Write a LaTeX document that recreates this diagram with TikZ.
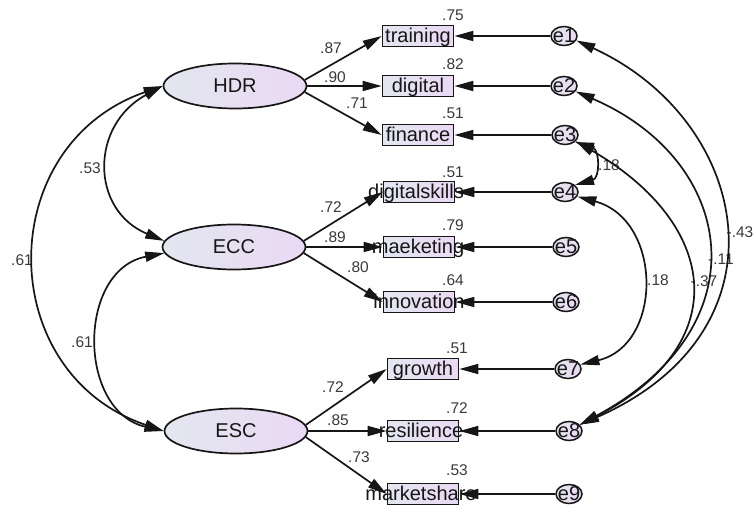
\documentclass[tikz,border=0pt]{standalone}
\usepackage{fontspec}
\setmainfont{Liberation Sans}
\usetikzlibrary{shapes.geometric,arrows.meta}
\definecolor{shadeL}{RGB}{227,230,240}
\definecolor{shadeR}{RGB}{234,217,243}
\definecolor{ink}{RGB}{22,22,22}
\begin{document}
\begin{tikzpicture}[x=1pt,y=-1pt,
  >={Triangle[length=19pt,width=10pt]},
  load/.style={draw=ink,line width=1.7pt,->},
  cov/.style={draw=ink,line width=1.7pt,<->},
  latent/.style={ellipse,draw=ink,line width=1.7pt,minimum width=143pt,minimum height=45pt,inner sep=0pt,left color=shadeL,right color=shadeR},
  obs/.style={rectangle,draw=ink,line width=1.7pt,minimum width=71pt,minimum height=21pt,inner sep=0pt,left color=shadeL,right color=shadeR},
  err/.style={ellipse,draw=ink,line width=1.5pt,minimum width=26pt,minimum height=19pt,inner sep=0pt,left color=shadeL,right color=shadeR},
  vartext/.style={font=\fontsize{20}{20}\selectfont,text=ink,inner sep=0pt,text height=13.5pt,text depth=0pt},
  coef/.style={font=\fontsize{15.5}{15.5}\selectfont,text=ink!85,inner sep=0pt,text height=11pt,text depth=0pt}]
\useasboundingbox (0,0) rectangle (753,505);

% latent factors
\node[latent] (HDR) at (235,86) {};
\node[latent] (ECC) at (234,247) {};
\node[latent] (ESC) at (236,431) {};

% indicators
\node[obs] (training)  at (418,36)  {};
\node[obs] (digital)   at (418,86)  {};
\node[obs] (finance)   at (418,135) {};
\node[obs] (dskills)   at (419,192) {};
\node[obs] (maeketing) at (419,247) {};
\node[obs] (innov)     at (419,302) {};
\node[obs] (growth)    at (423,369) {};
\node[obs] (resil)     at (423,431) {};
\node[obs] (mshare)    at (423,494) {};

% error terms
\node[err] (e1) at (564,36)  {};
\node[err] (e2) at (564,86)  {};
\node[err] (e3) at (565,135) {};
\node[err] (e4) at (565,192) {};
\node[err] (e5) at (566,247) {};
\node[err] (e6) at (566,302) {};
\node[err] (e7) at (568,369) {};
\node[err] (e8) at (569,431) {};
\node[err] (e9) at (569,494) {};

% names
\node[vartext] (tHDR) at (HDR) {HDR};
\node[vartext] (tECC) at (ECC) {ECC};
\node[vartext] (tESC) at (ESC) {ESC};
\node[vartext] (ttraining)  at (training)  {training};
\node[vartext] (tdigital)   at (digital)   {digital};
\node[vartext] (tfinance)   at (finance)   {finance};
\node[vartext] (tdskills)   at (416,192)   {digitalskills};
\node[vartext] (tmaeketing) at (418,247)   {maeketing};
\node[vartext] (tinnov)     at (419,302)   {innovation};
\node[vartext] (tgrowth)    at (growth)    {growth};
\node[vartext] (tresil)     at (421,431)   {resilience};
\node[vartext] (tmshare)    at (421,494)   {marketshare};
\foreach \i in {1,...,9} {\node[vartext] (te\i) at (e\i) {e\i};}

% squared multiple correlations
\node[coef] (r1) at (453,15)  {.75};
\node[coef] (r2) at (453,64)  {.82};
\node[coef] (r3) at (453,113) {.51};
\node[coef] (r4) at (453,172) {.51};
\node[coef] (r5) at (453,225) {.79};
\node[coef] (r6) at (453,280) {.64};
\node[coef] (r7) at (457,348) {.51};
\node[coef] (r8) at (457,408) {.72};
\node[coef] (r9) at (457,470) {.53};

% loadings
\node[coef] (l1) at (331,48)  {.87};
\node[coef] (l2) at (335,77)  {.90};
\node[coef] (l3) at (357,103) {.71};
\node[coef] (l4) at (331,207) {.72};
\node[coef] (l5) at (335,237) {.89};
\node[coef] (l6) at (358,267) {.80};
\node[coef] (l7) at (333,387) {.72};
\node[coef] (l8) at (338,420) {.85};
\node[coef] (l9) at (359,457) {.73};

% covariance values
\node[coef] (c1) at (90,168)  {.53};
\node[coef] (c2) at (22,260)  {.61};
\node[coef] (c3) at (82,342)  {.61};
\node[coef] (c4) at (609,165) {.18};
\node[coef] (c5) at (658,280) {.18};
\node[coef] (c6) at (740,232) {-.43};
\node[coef] (c7) at (721,259) {-.11};
\node[coef] (c8) at (704,281) {-.37};

% factor loadings
\draw[load] (HDR.5)  -- (training.west);
\draw[load] (HDR.east) -- (digital.west);
\draw[load] (HDR.-5) -- (finance.west);
\draw[load] (ECC.5)  -- (dskills.west);
\draw[load] (ECC.east) -- (maeketing.west);
\draw[load] (ECC.-5) -- (innov.west);
\draw[load] (ESC.5)  -- (growth.west);
\draw[load] (ESC.east) -- (resil.west);
\draw[load] (ESC.-5) -- (mshare.west);

% error paths
\draw[load] (e1) -- (training);
\draw[load] (e2) -- (digital);
\draw[load] (e3) -- (finance);
\draw[load] (e4) -- (dskills);
\draw[load] (e5) -- (maeketing);
\draw[load] (e6) -- (innov);
\draw[load] (e7) -- (growth);
\draw[load] (e8) -- (resil);
\draw[load] (e9) -- (mshare);

% factor covariances
\draw[cov] (HDR.west) .. controls (90,125) and (90,210) .. (ECC.175);
\draw[cov] (HDR.west) .. controls (-7,145) and (-7,373) .. (ESC.west);
\draw[cov] (ECC.185) .. controls (77,270) and (77,411) .. (ESC.west);

% error covariances
\draw[cov] (e3.-35) .. controls (600,150) and (600,178) .. (e4.35);
\draw[cov] (e4.-20) .. controls (663,220) and (663,345) .. (e7.20);
\draw[cov] (e3.-30) .. controls (720,225) and (735,345) .. (e8.30);
\draw[cov] (e2.-25) .. controls (735,160) and (765,325) .. (e8.30);
\draw[cov] (e1.-20) .. controls (750,120) and (795,330) .. (e8.30);
\end{tikzpicture}
\end{document}
